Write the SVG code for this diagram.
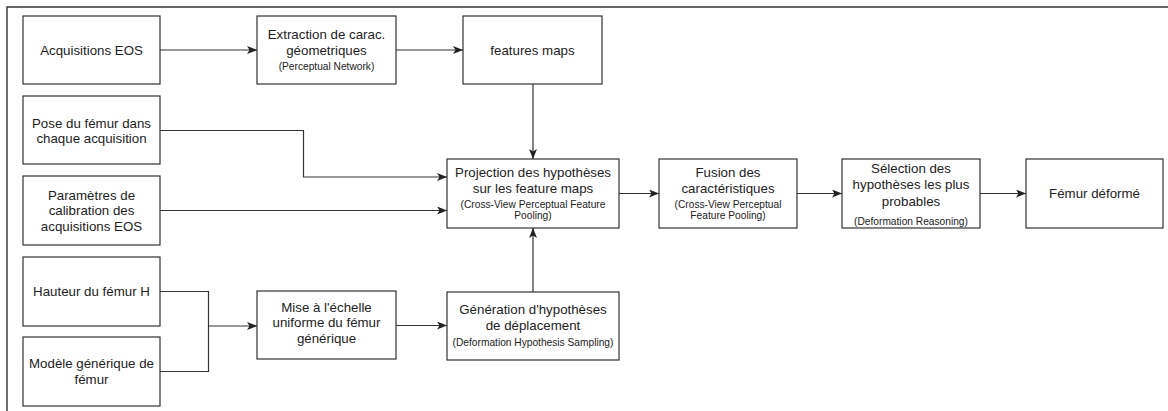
<svg xmlns="http://www.w3.org/2000/svg" width="1168" height="411" viewBox="0 0 1168 411">
<style>
  .box { fill: #ffffff; stroke: #333333; stroke-width: 1.2; }
  .t { font-family: "Liberation Sans", Arial, Helvetica, sans-serif; font-size: 13.3px; fill: #222222; text-anchor: middle; dominant-baseline: central; }
  .s { font-family: "Liberation Sans", Arial, Helvetica, sans-serif; font-size: 10.2px; fill: #222222; text-anchor: middle; dominant-baseline: central; }
  .c { fill: none; stroke: #333333; stroke-width: 1.2; }
  .frame { fill: none; stroke: #333333; stroke-width: 1.4; }
</style>
<defs>
  <marker id="arr" viewBox="0 0 10 8" refX="10" refY="4" markerWidth="10" markerHeight="8" markerUnits="userSpaceOnUse" orient="auto">
    <path d="M0,0 L10,4 L0,8 L2.5,4 Z" fill="#222222"/>
  </marker>
</defs>
<rect x="0" y="0" width="1168" height="411" fill="#ffffff"/>
<path class="frame" d="M7,411 L7,7 L1168,7"/>

<g id="connectors">
  <path class="c" d="M160,50 H257" marker-end="url(#arr)"/>
  <path class="c" d="M396,50 H463" marker-end="url(#arr)"/>
  <path class="c" d="M533,84 V159" marker-end="url(#arr)"/>
  <path class="c" d="M160,130.5 H303.5 V177 H447" marker-end="url(#arr)"/>
  <path class="c" d="M160,210.5 H447" marker-end="url(#arr)"/>
  <path class="c" d="M619,193.5 H659" marker-end="url(#arr)"/>
  <path class="c" d="M797,193.5 H842" marker-end="url(#arr)"/>
  <path class="c" d="M980,193.5 H1026" marker-end="url(#arr)"/>
  <path class="c" d="M160,291.5 H208.5 V326 H257" marker-end="url(#arr)"/>
  <path class="c" d="M160,371.5 H208.5 V326"/>
  <path class="c" d="M396,325.5 H447" marker-end="url(#arr)"/>
  <path class="c" d="M533,292 V228" marker-end="url(#arr)"/>
</g>

<g id="acquisitions">
  <rect class="box" x="23" y="16" width="137" height="68"/>
  <text class="t" x="91.5" y="50">Acquisitions EOS</text>
</g>
<g id="extraction">
  <rect class="box" x="257" y="16" width="139" height="68"/>
  <text class="t" x="326.5" y="34">Extraction de carac.</text>
  <text class="t" x="326.5" y="50">géometriques</text>
  <text class="s" x="326.5" y="66">(Perceptual Network)</text>
</g>
<g id="features">
  <rect class="box" x="463" y="16" width="139" height="68"/>
  <text class="t" x="532.5" y="50">features maps</text>
</g>
<g id="pose">
  <rect class="box" x="23" y="96" width="137" height="68"/>
  <text class="t" x="91.5" y="123">Pose du fémur dans</text>
  <text class="t" x="91.5" y="138.5">chaque acquisition</text>
</g>
<g id="parametres">
  <rect class="box" x="23" y="176" width="137" height="69"/>
  <text class="t" x="91.5" y="195">Paramètres de</text>
  <text class="t" x="91.5" y="210.5">calibration des</text>
  <text class="t" x="91.5" y="226">acquisitions EOS</text>
</g>
<g id="hauteur">
  <rect class="box" x="23" y="257" width="137" height="69"/>
  <text class="t" x="91.5" y="291.5">Hauteur du fémur H</text>
</g>
<g id="modele">
  <rect class="box" x="23" y="337" width="137" height="69"/>
  <text class="t" x="91.5" y="363.5">Modèle générique de</text>
  <text class="t" x="91.5" y="379.5">fémur</text>
</g>
<g id="mise">
  <rect class="box" x="257" y="291" width="139" height="68"/>
  <text class="t" x="326.5" y="307">Mise à l'échelle</text>
  <text class="t" x="326.5" y="322.5">uniforme du fémur</text>
  <text class="t" x="326.5" y="338">générique</text>
</g>
<g id="generation">
  <rect class="box" x="447" y="292" width="172" height="68"/>
  <text class="t" x="533" y="309">Génération d'hypothèses</text>
  <text class="t" x="533" y="325">de déplacement</text>
  <text class="s" x="533" y="342">(Deformation Hypothesis Sampling)</text>
</g>
<g id="projection">
  <rect class="box" x="447" y="159" width="172" height="69"/>
  <text class="t" x="533" y="172">Projection des hypothèses</text>
  <text class="t" x="533" y="188">sur les feature maps</text>
  <text class="s" x="533" y="204">(Cross-View Perceptual Feature</text>
  <text class="s" x="533" y="215">Pooling)</text>
</g>
<g id="fusion">
  <rect class="box" x="659" y="159" width="138" height="69"/>
  <text class="t" x="728" y="172">Fusion des</text>
  <text class="t" x="728" y="188">caractéristiques</text>
  <text class="s" x="728" y="204">(Cross-View Perceptual</text>
  <text class="s" x="728" y="215">Feature Pooling)</text>
</g>
<g id="selection">
  <rect class="box" x="842" y="159" width="138" height="69"/>
  <text class="t" x="911" y="168">Sélection des</text>
  <text class="t" x="911" y="184.5">hypothèses les plus</text>
  <text class="t" x="911" y="201">probables</text>
  <text class="s" x="911" y="221">(Deformation Reasoning)</text>
</g>
<g id="femur">
  <rect class="box" x="1026" y="159" width="137" height="69"/>
  <text class="t" x="1094.5" y="193.5">Fémur déformé</text>
</g>
</svg>
